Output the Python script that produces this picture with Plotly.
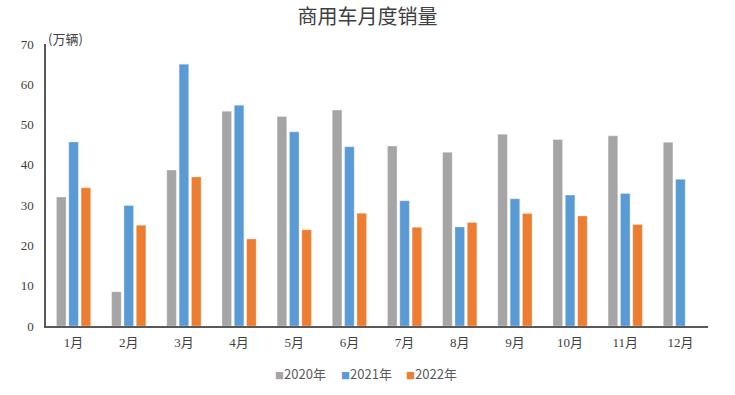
import plotly.graph_objects as go

months = ["1月", "2月", "3月", "4月", "5月", "6月", "7月", "8月", "9月", "10月", "11月", "12月"]
sales_2020 = [32.0, 8.5, 38.7, 53.3, 52.0, 53.6, 44.7, 43.1, 47.6, 46.3, 47.2, 45.6]
sales_2021 = [45.7, 29.9, 65.0, 54.8, 48.2, 44.5, 31.1, 24.6, 31.6, 32.5, 32.9, 36.4]
sales_2022 = [34.3, 25.0, 37.0, 21.6, 23.9, 28.0, 24.5, 25.7, 27.9, 27.3, 25.2, None]
y_ticks = [0, 10, 20, 30, 40, 50, 60, 70]
series_names = ["2020年", "2021年", "2022年"]
series_colors = ["#A5A5A5", "#5B9BD5", "#ED7D31"]
legend_x = [0.384, 0.484, 0.582]

fig = go.Figure()
for name, vals, color in zip(series_names, [sales_2020, sales_2021, sales_2022], series_colors):
    fig.add_trace(go.Bar(
        x=months, y=vals, name=name, showlegend=False,
        marker=dict(color=color, line=dict(color="rgba(255,255,255,0.6)", width=0.5)),
    ))

serif = "Liberation Serif, Noto Sans CJK SC, serif"
annotations = [dict(text="(万辆)", x=0, xref="paper", y=70, yref="y", xanchor="left",
                    yanchor="bottom", showarrow=False, yshift=-6,
                    font=dict(family="Noto Sans CJK SC", size=13, color="#404040"))]
for name, color, lx in zip(series_names, series_colors, legend_x):
    annotations.append(dict(
        text=f"<span style='color:{color};font-size:9px'>■</span>{name}",
        x=lx, xref="paper", y=-0.167, yref="paper", xanchor="center", yanchor="middle",
        showarrow=False, font=dict(family="Noto Sans CJK SC", size=13, color="#595959"),
    ))

fig.update_layout(
    width=735, height=395,
    margin=dict(l=46, r=27, t=44, b=69),
    paper_bgcolor="white", plot_bgcolor="white",
    barmode="group", bargap=0.33, bargroupgap=0.22,
    title=dict(text="商用车月度销量", x=0.5, xanchor="center", y=0.957, yanchor="middle",
               font=dict(family="Noto Sans CJK SC", size=20, color="#404040")),
    font=dict(family="Noto Sans CJK SC", size=12, color="#595959"),
    showlegend=False,
    xaxis=dict(showline=True, linecolor="#595959", linewidth=1.5, ticks="",
               ticklabelstandoff=4,
               tickfont=dict(family=serif, size=13, color="#404040"), showgrid=False),
    yaxis=dict(range=[0, 70], tickvals=y_ticks, showline=True, linecolor="#595959", linewidth=1.5,
               ticks="", showgrid=False, zeroline=False, ticklabelstandoff=8,
               tickfont=dict(family=serif, size=13, color="#404040")),
    annotations=annotations,
)

fig.write_html("out.html", config={"displayModeBar": False},
               post_script="document.body.style.margin='0';")
